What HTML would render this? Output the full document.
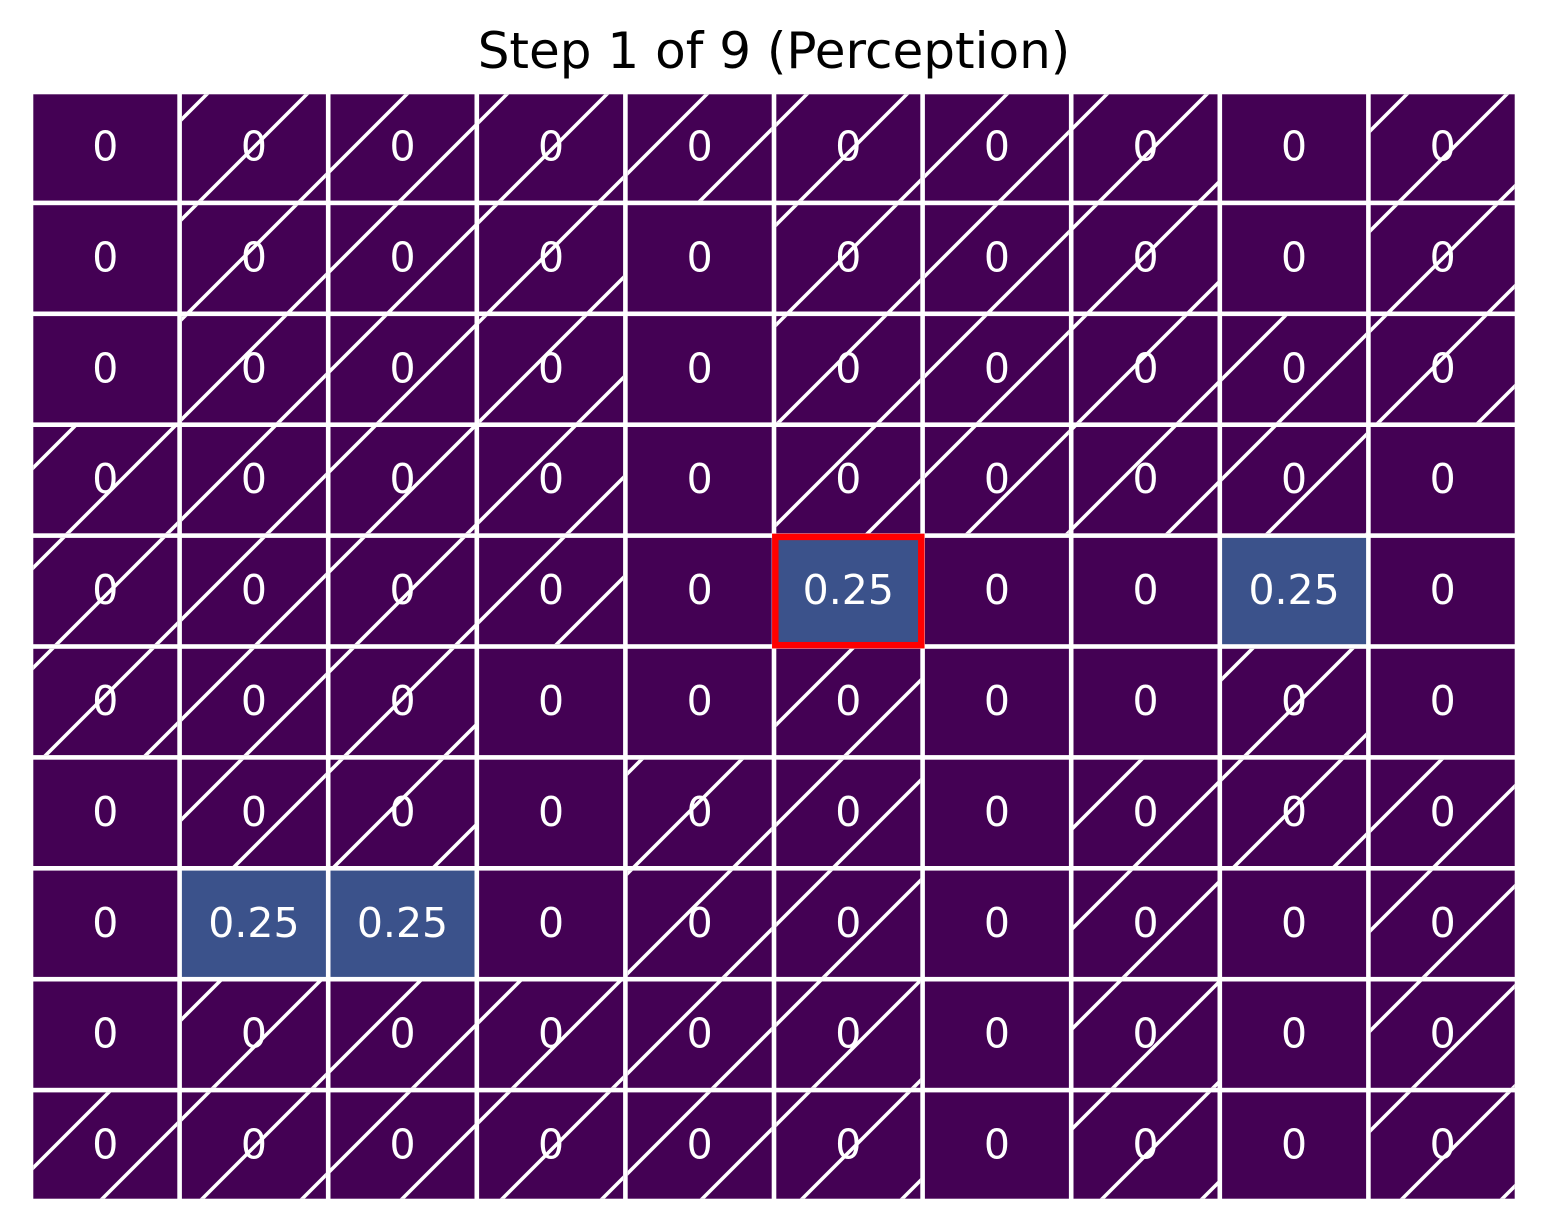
<!DOCTYPE html>
<html><head><meta charset="utf-8"><style>
html,body{margin:0;padding:0;background:#fff}
svg{display:block}
text{font-family:"DejaVu Sans","Liberation Sans",sans-serif}
</style></head><body>
<svg id="chart" width="1548" height="1231" viewBox="0 0 1548 1231" xmlns="http://www.w3.org/2000/svg">
<defs>
<pattern id="hatch" patternUnits="userSpaceOnUse" x="1" y="0" width="100" height="100">
<line x1="-10" y1="110" x2="110" y2="-10" stroke="#fff" stroke-width="3.6"/>
<line x1="-10" y1="10" x2="10" y2="-10" stroke="#fff" stroke-width="3.6"/>
<line x1="90" y1="110" x2="110" y2="90" stroke="#fff" stroke-width="3.6"/>
</pattern>
</defs>
<text x="774" y="68" font-size="50" text-anchor="middle" fill="#000">Step 1 of 9 (Perception)</text>
<g id="cells"></g>
</svg>
<script>
const values = [
[0,0,0,0,0,0,0,0,0,0],
[0,0,0,0,0,0,0,0,0,0],
[0,0,0,0,0,0,0,0,0,0],
[0,0,0,0,0,0,0,0,0,0],
[0,0,0,0,0,0.25,0,0,0.25,0],
[0,0,0,0,0,0,0,0,0,0],
[0,0,0,0,0,0,0,0,0,0],
[0,0.25,0.25,0,0,0,0,0,0,0],
[0,0,0,0,0,0,0,0,0,0],
[0,0,0,0,0,0,0,0,0,0]
];
const hatched = [
[0,1,1,1,1,1,1,1,0,1],
[0,1,1,1,0,1,1,1,0,1],
[0,1,1,1,0,1,1,1,1,1],
[1,1,1,1,0,1,1,1,1,0],
[1,1,1,1,0,0,0,0,0,0],
[1,1,1,0,0,1,0,0,1,0],
[0,1,1,0,1,1,0,1,1,1],
[0,0,0,0,1,1,0,1,0,1],
[0,1,1,1,1,1,0,1,0,1],
[1,1,1,1,1,1,0,1,0,1]
];
const highlight = [4,5];
const NS="http://www.w3.org/2000/svg";
const x0=31, y0=92, cw=148.6, ch=110.9, gap=4.6;
const xPos=c=>x0+c*cw, yPos=r=>y0+r*ch;
const color=v=>v>0.1?"#3b528b":"#440154";
const g=document.getElementById("cells");
function mk(tag,attrs){const e=document.createElementNS(NS,tag);for(const k in attrs)e.setAttribute(k,attrs[k]);return e;}
values.forEach((row,r)=>row.forEach((v,c)=>{
  const x=xPos(c)+gap/2, y=yPos(r)+gap/2, w=cw-gap, h=ch-gap;
  const rect=mk("rect",{x:x,y:y,width:w,height:h,fill:color(v)});
  
  
  g.appendChild(rect);
  if(hatched[r][c]){
    const hr=mk("rect",{x:x,y:y,width:w,height:h,fill:"url(#hatch)"});
    
    
    g.appendChild(hr);
  }
  const t=mk("text",{x:xPos(c)+cw/2,y:yPos(r)+ch/2+13,"font-size":"41","text-anchor":"middle",fill:"#fff"});
  t.textContent=String(v);
  
  
  g.appendChild(t);
}));
const hl=mk("rect",{x:xPos(highlight[1])+gap/2-1,y:yPos(highlight[0])+gap/2-1,width:cw-gap+2,height:ch-gap+2,fill:"none",stroke:"#ff0000","stroke-width":"6.5"});


g.appendChild(hl);
</script>
</body></html>
